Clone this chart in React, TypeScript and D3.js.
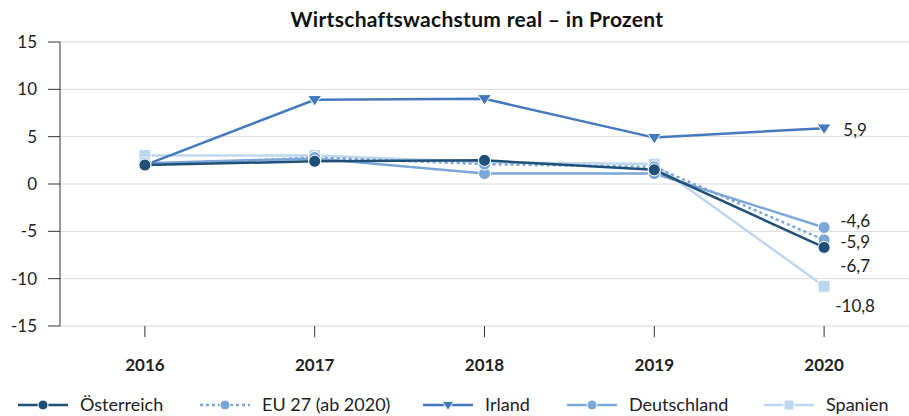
import React from 'react';
import * as d3 from 'd3';

const width = 909;
const height = 416;
const margin = { top: 42, right: 0, bottom: 90, left: 60 };

const years = ['2016', '2017', '2018', '2019', '2020'];
const yTicks = [15, 10, 5, 0, -5, -10, -15];

const oesterreich = [2.0, 2.4, 2.5, 1.5, -6.7];
const eu27 = [2.0, 2.8, 2.1, 1.8, -5.9];
const irland = [2.0, 8.9, 9.0, 4.9, 5.9];
const deutschland = [2.2, 2.7, 1.1, 1.1, -4.6];
const spanien = [3.0, 3.0, 2.3, 2.1, -10.8];

// end labels: value text and vertical offset from the last point
const endLabels = [
  { value: 5.9, text: '5,9', dy: 2 },
  { value: -4.6, text: '-4,6', dy: -6.5 },
  { value: -5.9, text: '-5,9', dy: 2 },
  { value: -6.7, text: '-6,7', dy: 18.5 },
  { value: -10.8, text: '-10,8', dy: 20 },
];

const series = [
  { name: 'Spanien', values: spanien, color: '#bdd7ee', marker: 'square', dash: null },
  { name: 'Deutschland', values: deutschland, color: '#7aa7d8', marker: 'circle', dash: null },
  { name: 'Irland', values: irland, color: '#4479bd', marker: 'triangle', dash: null },
  { name: 'EU 27 (ab 2020)', values: eu27, color: '#7aa7d8', marker: 'circle', dash: '3,3' },
  { name: 'Österreich', values: oesterreich, color: '#1f5078', marker: 'circle', dash: null },
];

const legendOrder = ['Österreich', 'EU 27 (ab 2020)', 'Irland', 'Deutschland', 'Spanien'];
const legendX = [18, 200, 423, 567, 764];

const font = 'Lato, "Open Sans", sans-serif';

const Marker = ({ type, x, y, color, size = 6 }) => {
  if (type === 'square') {
    return <rect x={x - size} y={y - size} width={size * 2} height={size * 2} fill={color} stroke="#fff" strokeWidth={1} />;
  }
  if (type === 'triangle') {
    const s = size + 1;
    return (
      <path
        d={`M${x - s},${y - s * 0.6} L${x + s},${y - s * 0.6} L${x},${y + s * 0.9} Z`}
        fill={color}
        stroke="#fff"
        strokeWidth={1}
      />
    );
  }
  return <circle cx={x} cy={y} r={size} fill={color} stroke="#fff" strokeWidth={1} />;
};

export default function App() {
  const innerW = width - margin.left - margin.right;
  const innerH = height - margin.top - margin.bottom;

  const x = d3.scaleBand().domain(years).range([margin.left, margin.left + innerW]);
  const y = d3.scaleLinear().domain([-15, 15]).range([margin.top + innerH, margin.top]);
  const cx = (yr) => x(yr) + x.bandwidth() / 2;

  const line = d3
    .line()
    .x((d, i) => cx(years[i]))
    .y((d) => y(d));

  const lastX = cx(years[years.length - 1]);

  return (
    <svg width={width} height={height} style={{ position: 'absolute', left: 0, top: 0 }} fontFamily={font}>
      <text x={477} y={27} textAnchor="middle" fontSize={21} fontWeight="bold" letterSpacing={0.3} fill="#111">
        Wirtschaftswachstum real – in Prozent
      </text>

      {/* gridlines */}
      {yTicks.map((t) => (
        <line key={t} x1={margin.left} x2={margin.left + innerW} y1={y(t)} y2={y(t)} stroke="#d9d9d9" strokeWidth={1} />
      ))}

      {/* y axis */}
      <line x1={margin.left} x2={margin.left} y1={y(15)} y2={y(-15)} stroke="#333" strokeWidth={1} />
      {yTicks.map((t) => (
        <g key={t}>
          <line x1={margin.left - 12} x2={margin.left} y1={y(t)} y2={y(t)} stroke="#333" />
          <text x={margin.left - 23} y={y(t)} dy="0.35em" textAnchor="end" fontSize={17} fill="#222">
            {t}
          </text>
        </g>
      ))}

      {/* x axis ticks and labels */}
      {years.map((yr) => (
        <g key={yr}>
          <line x1={cx(yr)} x2={cx(yr)} y1={y(-15)} y2={y(-15) + 11} stroke="#333" />
          <text x={cx(yr)} y={y(-15) + 39} dy="0.35em" textAnchor="middle" fontSize={17} fontWeight="bold" fill="#222">
            {yr}
          </text>
        </g>
      ))}

      {/* lines */}
      {series.map((s) => (
        <path
          key={s.name}
          d={line(s.values)}
          fill="none"
          stroke={s.color}
          strokeWidth={2.5}
          strokeDasharray={s.dash || undefined}
        />
      ))}
      {series.map((s) => (
        <g key={s.name + '-m'}>
          {s.values.map((v, i) => (
            <Marker key={i} type={s.marker} x={cx(years[i])} y={y(v)} color={s.color} />
          ))}
        </g>
      ))}

      {/* end labels */}
      {endLabels.map((l) => (
        <text key={l.text} x={lastX + 31} y={y(l.value) + l.dy} dy="0.35em" textAnchor="middle" fontSize={17} fill="#222">
          {l.text}
        </text>
      ))}

      {/* legend */}
      {legendOrder.map((name, i) => {
        const s = series.find((d) => d.name === name);
        const lx = legendX[i];
        const ly = 405;
        return (
          <g key={name}>
            <line
              x1={lx}
              x2={lx + 50}
              y1={ly}
              y2={ly}
              stroke={s.color}
              strokeWidth={2.5}
              strokeDasharray={s.dash || undefined}
            />
            <Marker type={s.marker} x={lx + 25} y={ly} color={s.color} size={5} />
            <text x={lx + 62} y={ly} dy="0.35em" fontSize={18} fill="#222">
              {name}
            </text>
          </g>
        );
      })}
    </svg>
  );
}
